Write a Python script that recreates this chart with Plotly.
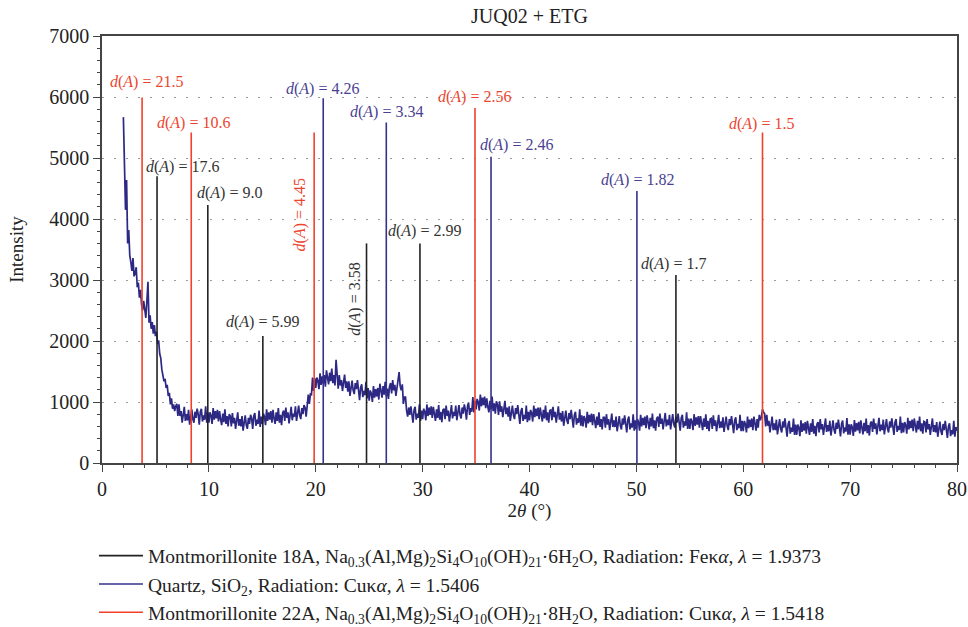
import plotly.graph_objects as go

# ---------------- data ----------------
two_theta_start = 2.0
two_theta_step = 0.1
intensity = [
    5670, 4900, 4150, 4640, 3600, 3820, 3400, 3290, 3150, 3360,
    3060, 3110, 3210, 2880, 2960, 2710, 2840, 2600, 2500, 2660,
    2550, 2380, 2650, 2970, 2300, 2420, 2200, 2310, 2120, 2260,
    2080, 2150, 1950, 2010, 1790, 1720, 1530, 1450, 1340, 1380,
    1230, 1280, 1100, 1150, 960, 1060, 890, 960, 850, 930,
    970, 770, 960, 770, 850, 660, 790, 920, 690, 800,
    700, 870, 630, 810, 880, 720, 660, 840, 740, 890,
    800, 630, 840, 890, 680, 780, 710, 930, 660, 830,
    660, 830, 780, 640, 900, 710, 850, 730, 870, 680,
    850, 710, 620, 810, 670, 880, 640, 770, 600, 800,
    770, 600, 820, 650, 740, 560, 700, 830, 610, 720,
    600, 770, 530, 710, 780, 620, 560, 740, 640, 790,
    730, 560, 770, 820, 610, 710, 640, 860, 590, 760,
    640, 810, 760, 620, 880, 690, 830, 710, 850, 660,
    870, 730, 640, 830, 690, 900, 660, 790, 620, 820,
    860, 690, 910, 740, 830, 650, 790, 920, 700, 810,
    760, 930, 690, 870, 940, 780, 720, 900, 800, 950,
    910, 760, 1020, 1120, 970, 1130, 1120, 1400, 1180, 1390,
    1230, 1400, 1350, 1210, 1470, 1280, 1420, 1300, 1440, 1250,
    1520, 1380, 1290, 1480, 1340, 1550, 1310, 1440, 1270, 1690,
    1390, 1220, 1440, 1270, 1360, 1180, 1320, 1450, 1230, 1340,
    1170, 1340, 1100, 1280, 1350, 1190, 1130, 1310, 1210, 1360,
    1200, 1030, 1240, 1290, 1080, 1180, 1110, 1330, 1060, 1230,
    1020, 1190, 1140, 1000, 1260, 1070, 1210, 1090, 1230, 1040,
    1300, 1160, 1070, 1260, 1120, 1330, 1090, 1220, 1050, 1250,
    1310, 1140, 1360, 1190, 1280, 1100, 1240, 1370, 1490, 1260,
    1190, 1290, 970, 1080, 1080, 860, 760, 910, 790, 930,
    830, 660, 870, 920, 710, 810, 740, 960, 690, 860,
    720, 890, 840, 700, 960, 770, 910, 790, 930, 740,
    920, 780, 690, 880, 740, 950, 710, 840, 670, 870,
    890, 720, 940, 770, 860, 680, 820, 950, 730, 840,
    770, 940, 700, 880, 950, 790, 730, 910, 810, 960,
    870, 710, 930, 990, 790, 900, 840, 1080, 830, 1020,
    880, 1050, 1000, 860, 1120, 930, 1070, 950, 1090, 900,
    1060, 920, 830, 1020, 880, 1090, 850, 980, 810, 1010,
    960, 790, 1010, 840, 930, 750, 890, 1020, 800, 910,
    760, 930, 690, 870, 940, 780, 720, 900, 800, 950,
    810, 640, 850, 900, 690, 790, 720, 940, 670, 840,
    700, 870, 820, 680, 940, 750, 890, 770, 910, 720,
    910, 770, 680, 870, 730, 940, 700, 830, 660, 860,
    870, 700, 920, 750, 840, 660, 800, 930, 710, 820,
    680, 850, 610, 790, 860, 700, 640, 820, 720, 870,
    750, 580, 790, 840, 630, 730, 660, 880, 610, 780,
    600, 770, 720, 580, 840, 650, 790, 670, 810, 620,
    800, 660, 570, 760, 620, 830, 590, 720, 550, 750,
    750, 580, 800, 630, 720, 540, 680, 810, 590, 700,
    590, 760, 520, 700, 770, 610, 550, 730, 630, 780,
    670, 500, 710, 760, 550, 650, 580, 800, 530, 700,
    550, 720, 670, 530, 790, 600, 740, 620, 760, 570,
    780, 640, 550, 740, 600, 810, 570, 700, 530, 730,
    760, 590, 810, 640, 730, 550, 690, 820, 600, 710,
    620, 790, 550, 730, 800, 640, 580, 760, 660, 810,
    700, 530, 740, 790, 580, 680, 610, 830, 560, 730,
    560, 730, 680, 540, 800, 610, 750, 630, 770, 580,
    770, 630, 540, 730, 590, 800, 560, 690, 520, 720,
    730, 560, 780, 610, 700, 520, 660, 790, 570, 680,
    580, 750, 510, 690, 760, 600, 540, 720, 620, 770,
    660, 490, 700, 750, 540, 640, 570, 790, 520, 690,
    520, 690, 640, 500, 760, 570, 710, 590, 730, 540,
    760, 620, 530, 720, 580, 790, 700, 760, 880, 830,
    810, 600, 790, 610, 690, 500, 640, 760, 540, 650,
    540, 710, 470, 650, 720, 560, 500, 680, 580, 730,
    600, 430, 640, 690, 480, 580, 510, 730, 460, 630,
    460, 630, 580, 440, 700, 510, 650, 530, 670, 480,
    690, 550, 460, 650, 510, 720, 480, 610, 440, 640,
    670, 500, 720, 550, 640, 460, 600, 730, 510, 620,
    520, 690, 450, 630, 700, 540, 480, 660, 560, 710,
    605, 435, 645, 695, 485, 585, 515, 735, 465, 635,
    465, 635, 585, 445, 705, 515, 655, 535, 675, 485,
    700, 560, 470, 660, 520, 730, 490, 620, 450, 650,
    680, 510, 730, 560, 650, 470, 610, 740, 520, 630,
    540, 710, 470, 650, 720, 560, 500, 680, 580, 730,
    630, 460, 670, 720, 510, 610, 540, 760, 490, 660,
    500, 670, 620, 480, 740, 550, 690, 570, 710, 520,
    730, 590, 500, 690, 550, 760, 520, 650, 480, 680,
    670, 500, 720, 550, 640, 460, 600, 730, 510, 620,
    500, 670, 430, 610, 680, 520, 460, 640, 540, 690,
    560, 410, 600, 650, 440, 540, 470, 690, 430, 590,
    530,
]
two_theta = [round(two_theta_start + i * two_theta_step, 2) for i in range(len(intensity))]

# Reference stick patterns
mont18_pos = [5.15, 9.9, 15.05, 24.75, 29.75, 53.7]
mont18_height = [4700, 4230, 2080, 3600, 3600, 3080]
mont18_d = ["17.6", "9.0", "5.99", "3.58", "2.99", "1.7"]

quartz_pos = [20.7, 26.6, 36.4, 50.05]
quartz_height = [5980, 5580, 5020, 4460]
quartz_d = ["4.26", "3.34", "2.46", "1.82"]

mont22_pos = [3.75, 8.35, 19.85, 34.9, 61.8]
mont22_height = [5990, 5420, 5420, 5820, 5420]
mont22_d = ["21.5", "10.6", "4.45", "2.56", "1.5"]

legend_names = [
    "Montmorillonite 18A, Na<sub>0.3</sub>(Al,Mg)<sub>2</sub>Si<sub>4</sub>O<sub>10</sub>(OH)<sub>21</sub>·6H<sub>2</sub>O, Radiation: Feκ<i>α</i>, <i>λ</i> = 1.9373",
    "Quartz, SiO<sub>2</sub>, Radiation: Cuκ<i>α</i>, <i>λ</i> = 1.5406",
    "Montmorillonite 22A, Na<sub>0.3</sub>(Al,Mg)<sub>2</sub>Si<sub>4</sub>O<sub>10</sub>(OH)<sub>21</sub>·8H<sub>2</sub>O, Radiation: Cuκ<i>α</i>, <i>λ</i> = 1.5418",
]

# ---------------- styling ----------------
FONT = "Liberation Serif"
C_TRACE = "#2c2883"
C_BLACK = "#222222"
C_BLUE = "#35318c"
C_RED = "#f2402a"
C_TXT_BLACK = "#333333"
C_TXT_BLUE = "#4a3f93"
C_TXT_RED = "#ec452f"

fig = go.Figure()

fig.add_trace(go.Scatter(
    x=two_theta, y=intensity, mode="lines",
    line=dict(color=C_TRACE, width=1.7), showlegend=False, hoverinfo="skip",
))


def sticks(pos, h):
    xs, ys = [], []
    for p, v in zip(pos, h):
        xs += [p, p, None]
        ys += [0, v, None]
    return xs, ys


for name, pos, h, col in [
    (legend_names[0], mont18_pos, mont18_height, C_BLACK),
    (legend_names[1], quartz_pos, quartz_height, C_BLUE),
    (legend_names[2], mont22_pos, mont22_height, C_RED),
]:
    xs, ys = sticks(pos, h)
    fig.add_trace(go.Scatter(x=xs, y=ys, mode="lines", name=name,
                             line=dict(color=col, width=1.6)))

# label placements (x, y in data units, angle)
label_layout = {
    ("m18", 0): (7.5, 4860, 0), ("m18", 1): (11.9, 4430, 0), ("m18", 2): (15.0, 2310, 0),
    ("m18", 3): (23.6, 2680, -90), ("m18", 4): (30.2, 3800, 0), ("m18", 5): (53.5, 3260, 0),
    ("qz", 0): (20.6, 6130, 0), ("qz", 1): (26.6, 5750, 0), ("qz", 2): (38.8, 5210, 0),
    ("qz", 3): (50.1, 4640, 0),
    ("m22", 0): (4.2, 6250, 0), ("m22", 1): (8.6, 5570, 0), ("m22", 2): (18.5, 4070, -90),
    ("m22", 3): (34.9, 6000, 0), ("m22", 4): (61.75, 5560, 0),
}
for key, dlist, col in [("m18", mont18_d, C_TXT_BLACK), ("qz", quartz_d, C_TXT_BLUE), ("m22", mont22_d, C_TXT_RED)]:
    for i, d in enumerate(dlist):
        lx, ly, ang = label_layout[(key, i)]
        fig.add_annotation(x=lx, y=ly, text=f"<i>d</i>(<i>A</i>) = {d}", showarrow=False,
                           textangle=ang, font=dict(family=FONT, size=16, color=col),
                           xanchor="center", yanchor="middle")

axis_common = dict(
    showline=True, linecolor="#444444", linewidth=1.5, mirror=True,
    ticks="outside", ticklen=7, tickwidth=1.2, tickcolor="#444444",
    tickfont=dict(family=FONT, size=20, color="#222222"),
    zeroline=False,
)
fig.update_xaxes(
    range=[0, 80], dtick=10, showgrid=False, ticklabeloverflow="allow",
    minor=dict(dtick=2, ticks="outside", ticklen=3, tickcolor="#444444", showgrid=False),
    title=dict(text="2<i>θ</i> (°)", font=dict(family=FONT, size=19, color="#222222"), standoff=0),
    **axis_common,
)
fig.update_yaxes(
    range=[0, 7000], dtick=1000, showgrid=True, gridcolor="#9a9a9a", gridwidth=1.2,
    griddash="2px,10px",
    minor=dict(dtick=200, ticks="outside", ticklen=3, tickcolor="#444444", showgrid=False),
    title=dict(text="Intensity", font=dict(family=FONT, size=19, color="#222222"), standoff=21),
    **axis_common,
)

fig.update_layout(
    width=968, height=627,
    margin=dict(l=102, r=11, t=36, b=164, autoexpand=False),
    paper_bgcolor="white", plot_bgcolor="white",
    title=dict(text="JUQ02 + ETG", x=0.547, xanchor="center", y=0.9745, yanchor="middle",
               font=dict(family=FONT, size=20, color="#222222")),
    legend=dict(x=-0.0094, y=-0.172, xanchor="left", yanchor="top", orientation="v",
                font=dict(family=FONT, size=19.5, color="#222222"),
                tracegroupgap=0, itemwidth=44, bgcolor="rgba(0,0,0,0)"),
    showlegend=True,
)

fig.write_html(
    "out.html",
    config={"displayModeBar": False},
    post_script="document.body.style.margin='0';document.documentElement.style.overflow='hidden';",
)
